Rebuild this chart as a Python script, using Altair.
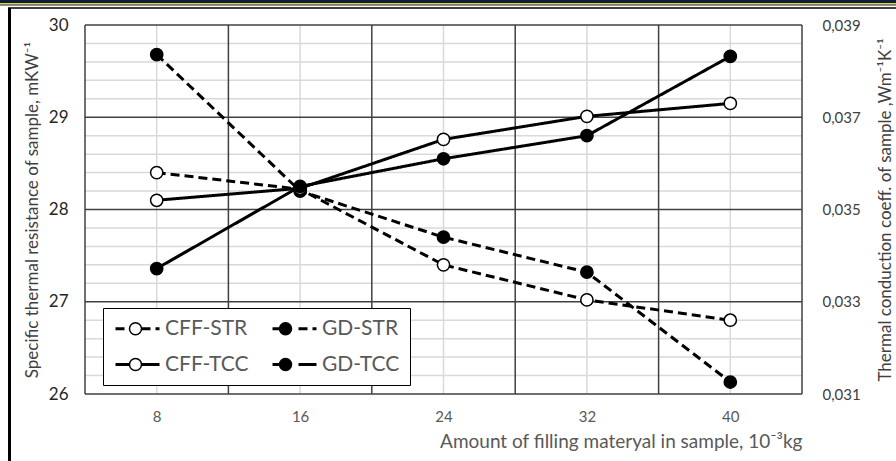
import altair as alt
import pandas as pd

# ---- data ----
x_vals = [8, 16, 24, 32, 40]
cff_str = [28.40, 28.22, 27.40, 27.02, 26.80]
gd_str = [29.68, 28.20, 27.70, 27.32, 26.13]
cff_tcc = [0.03520, 0.03546, 0.03652, 0.03702, 0.03730]
gd_tcc = [0.03372, 0.03550, 0.03610, 0.03660, 0.03832]

series_names = ["CFF-STR", "CFF-TCC", "GD-STR", "GD-TCC"]
x_ticks = [8, 16, 24, 32, 40]
x_major_grid = [4, 12, 20, 28, 36, 44]
left_ticks = [26, 27, 28, 29, 30]
left_minor = [26.2, 26.4, 26.6, 26.8, 27.2, 27.4, 27.6, 27.8,
              28.2, 28.4, 28.6, 28.8, 29.2, 29.4, 29.6, 29.8]
right_ticks = [0.031, 0.033, 0.035, 0.037, 0.039]

FONT = "Lato"
W, H = 717, 369

str_df = pd.DataFrame({"x": x_vals * 2, "v": cff_str + gd_str,
                       "series": ["CFF-STR"] * 5 + ["GD-STR"] * 5})
tcc_df = pd.DataFrame({"x": x_vals * 2, "v": cff_tcc + gd_tcc,
                       "series": ["CFF-TCC"] * 5 + ["GD-TCC"] * 5})
one = pd.DataFrame({"a": [0]})

X = alt.X("x:Q", scale=alt.Scale(domain=[4, 44], nice=False, zero=False),
          axis=alt.Axis(values=x_ticks, format="d", grid=False, ticks=False, domain=False,
                        title="Amount of filling materyal in sample, 10⁻³kg",
                        labelFont=FONT, labelFontSize=15, labelColor="#595959", labelPadding=15,
                        titleFont=FONT, titleFontSize=19, titleFontWeight="normal",
                        titleColor="#595959", titleAnchor="end", titlePadding=8))

YL = alt.Y("v:Q", scale=alt.Scale(domain=[26, 30], nice=False, zero=False),
           axis=alt.Axis(values=left_ticks, format="d", grid=False, ticks=False, domain=False,
                         title="Specific thermal resistance of sample, mKW⁻¹",
                         labelFont=FONT, labelFontSize=17, labelColor="#262626", labelPadding=17,
                         titleFont=FONT, titleFontSize=17, titleFontWeight="normal",
                         titleColor="#404040", titlePadding=7))

YR = alt.Y("v:Q", scale=alt.Scale(domain=[0.031, 0.039], nice=False, zero=False),
           axis=alt.Axis(orient="right", values=right_ticks, grid=False, ticks=False, domain=False,
                         labelExpr="replace(format(datum.value, '.3f'), '.', ',')",
                         title="Thermal conduction coeff. of sample ,Wm⁻¹K⁻¹",
                         labelFont=FONT, labelFontSize=15, labelColor="#404040", labelPadding=20,
                         titleFont=FONT, titleFontSize=17, titleFontWeight="normal",
                         titleColor="#404040", titlePadding=34, titleAngle=270))

# legend symbols (unit = 8 px): line parts and circle part drawn by two stacked legends
SYM_LINE = "M-1,0H0.75 M2.25,0H4.5"
SYM_CIRC = "M0.75,0A0.75,0.75,0,1,1,2.25,0A0.75,0.75,0,1,1,0.75,0Z"
common = dict(title=None, orient="none", legendX=18, legendY=283, columns=2,
              symbolSize=256, symbolStrokeColor="black",
              labelFont=FONT, labelFontSize=21, labelOffset=31, labelLimit=0,
              padding=10, rowPadding=14)
LEG_DASH = alt.Legend(symbolType=SYM_LINE, symbolStrokeWidth=3, labelColor="#595959",
                      fillColor="white", strokeColor="black", columnPadding=17, **common)
LEG_FILL = alt.Legend(symbolType=SYM_CIRC, symbolStrokeWidth=1.5, labelExpr="''",
                      columnPadding=98, **common)

# strokeDash domain comes from the data (sorted), fill domain is explicit -> two legends
DASH = alt.StrokeDash("series:N", scale=alt.Scale(range=[[9, 5], [1, 0], [9, 5], [1, 0]]),
                      legend=LEG_DASH)
FILL = alt.Fill("series:N", scale=alt.Scale(domain=series_names,
                range=["white", "white", "black", "black"]), legend=LEG_FILL)

# decoration (page frame)
band1 = alt.Chart(one).mark_rect(color="#0b1d45").encode(
    x=alt.value(-85), x2=alt.value(811), y=alt.value(-25), y2=alt.value(-22))
band2 = alt.Chart(one).mark_rect(color="#f2d600").encode(
    x=alt.value(-85), x2=alt.value(811), y=alt.value(-22), y2=alt.value(-20.5))
band3 = alt.Chart(one).mark_rect(color="#0b1d45").encode(
    x=alt.value(-85), x2=alt.value(811), y=alt.value(-20.5), y2=alt.value(-19.5))
frame_top = alt.Chart(one).mark_rule(color="black", strokeWidth=1.5).encode(
    x=alt.value(-77), x2=alt.value(811), y=alt.value(-17))
frame_left = alt.Chart(one).mark_rule(color="black", strokeWidth=3).encode(
    x=alt.value(-75.5), y=alt.value(-17), y2=alt.value(436))

vgrid_minor = alt.Chart(pd.DataFrame({"x": x_ticks})).mark_rule(
    color="#d9d9d9", strokeWidth=1.5).encode(x=X)
hgrid_minor = alt.Chart(pd.DataFrame({"v": left_minor})).mark_rule(
    color="#d9d9d9", strokeWidth=1.5).encode(y=YL)
vgrid_major = alt.Chart(pd.DataFrame({"x": x_major_grid})).mark_rule(
    color="#404040", strokeWidth=1.5).encode(x=X)
hgrid_major = alt.Chart(pd.DataFrame({"v": left_ticks})).mark_rule(
    color="#404040", strokeWidth=1.5).encode(y=YL)

str_lines = alt.Chart(str_df).mark_line(color="black", strokeWidth=3).encode(
    x=X, y=YL, strokeDash=DASH, detail="series:N")
str_pts = alt.Chart(str_df).mark_point(shape="circle", size=150, filled=False, stroke="black",
                                       strokeWidth=1.5, opacity=1).encode(x=X, y=YL, fill=FILL)

tcc_lines = alt.Chart(tcc_df).mark_line(color="black", strokeWidth=3).encode(
    x=X, y=YR, strokeDash=DASH, detail="series:N")
tcc_pts = alt.Chart(tcc_df).mark_point(shape="circle", size=150, filled=False, stroke="black",
                                       strokeWidth=1.5, opacity=1).encode(x=X, y=YR, fill=FILL)

left = alt.layer(band1, band2, band3, frame_top, frame_left,
                 vgrid_minor, hgrid_minor, vgrid_major, hgrid_major, str_lines, str_pts)
right = alt.layer(tcc_lines, tcc_pts)

chart = alt.layer(left, right).resolve_scale(y="independent").properties(
    width=W, height=H,
    autosize=alt.AutoSizeParams(type="none"),
    padding={"left": 85, "top": 25, "right": 94, "bottom": 67},
    background="white",
).configure_view(stroke=None)

chart.save("out.html", embed_options={"renderer": "svg", "actions": False})
